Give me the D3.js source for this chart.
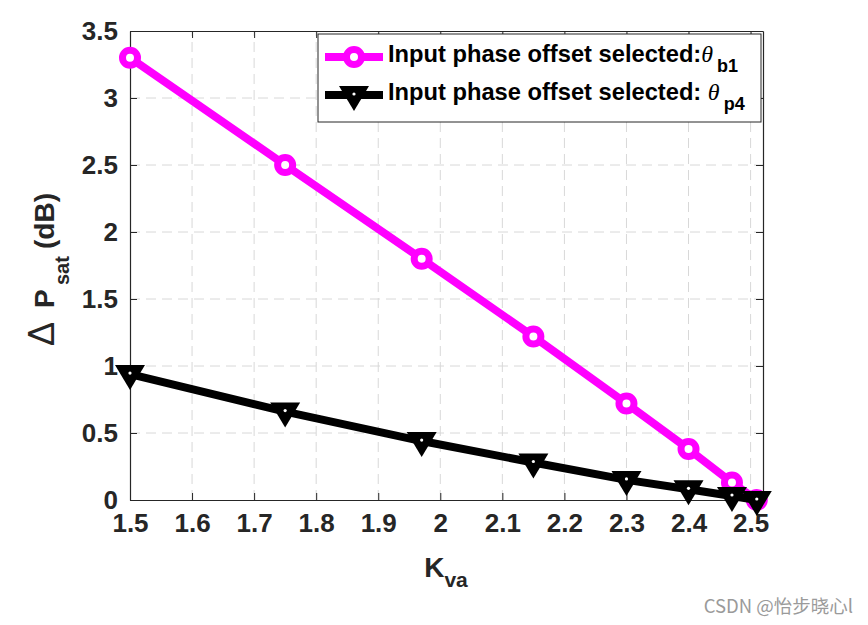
<!DOCTYPE html>
<html>
<head>
<meta charset="utf-8">
<script src="https://cdn.jsdelivr.net/npm/d3@7"></script>
<style>
  html, body { margin: 0; padding: 0; background: #fff; }
  svg { display: block; }
</style>
</head>
<body>
<div id="chart"></div>
<script>
// ---- data ----
const kva = [1.5, 1.75, 1.97, 2.15, 2.3, 2.4, 2.47, 2.51];
const seriesB1 = [3.30, 2.50, 1.80, 1.22, 0.72, 0.38, 0.13, 0.0];
const seriesP4 = [0.94, 0.66, 0.44, 0.28, 0.15, 0.08, 0.03, 0.0];
const xTicks = [1.5, 1.6, 1.7, 1.8, 1.9, 2.0, 2.1, 2.2, 2.3, 2.4, 2.5];
const yTicks = [0, 0.5, 1, 1.5, 2, 2.5, 3, 3.5];
const xDomain = [1.5, 2.52];
const yDomain = [0, 3.5];
const legendLabels = [
  { text: "Input phase offset selected:", sym: "\u03B8", sub: "b1" },
  { text: "Input phase offset selected: ", sym: "\u03B8", sub: "p4" }
];

// ---- layout ----
const W = 868, H = 625;
const plot = { left: 130, right: 763, top: 31, bottom: 500 };
const axisColor = "#262626";
const magenta = "#ff00ff";
const fontSans = "'Liberation Sans', Arial, Helvetica, sans-serif";
const fontSerif = "'Liberation Serif', 'Times New Roman', serif";

const svg = d3.select("#chart").append("svg")
  .attr("width", W).attr("height", H)
  .attr("font-family", fontSans);

svg.append("rect").attr("width", W).attr("height", H).attr("fill", "#fff");

const x = d3.scaleLinear().domain(xDomain).range([plot.left, plot.right]);
const y = d3.scaleLinear().domain(yDomain).range([plot.bottom, plot.top]);

// grid
const grid = svg.append("g").attr("stroke", "#d8d8d8").attr("stroke-width", 1)
  .attr("stroke-dasharray", "10,6");
grid.selectAll("line.vx").data(xTicks.slice(1)).join("line")
  .attr("x1", d => x(d)).attr("x2", d => x(d))
  .attr("y1", plot.bottom).attr("y2", plot.top);
grid.selectAll("line.hy").data(yTicks.slice(1, -1)).join("line")
  .attr("y1", d => y(d)).attr("y2", d => y(d))
  .attr("x1", plot.left).attr("x2", plot.right);

// axes
const tickLen = 7;
const xAxis = d3.axisBottom(x).tickValues(xTicks).tickSizeInner(-tickLen).tickSizeOuter(0)
  .tickPadding(14).tickFormat(d3.format("~g"));
const yAxis = d3.axisLeft(y).tickValues(yTicks).tickSizeInner(-tickLen).tickSizeOuter(0)
  .tickPadding(12).tickFormat(d3.format("~g"));
const xTop = d3.axisTop(x).tickValues(xTicks).tickSizeInner(-tickLen).tickSizeOuter(0).tickFormat("");
const yRight = d3.axisRight(y).tickValues(yTicks).tickSizeInner(-tickLen).tickSizeOuter(0).tickFormat("");

function styleAxis(g) {
  g.select(".domain").attr("stroke", axisColor).attr("stroke-width", 1.2);
  g.selectAll(".tick line").attr("stroke", axisColor).attr("stroke-width", 1);
  g.selectAll(".tick text").attr("fill", axisColor)
    .attr("font-family", fontSans).attr("font-size", 26).attr("font-weight", "bold");
}
svg.append("g").attr("transform", `translate(0,${plot.bottom})`).call(xAxis).call(styleAxis);
svg.append("g").attr("transform", `translate(${plot.left},0)`).call(yAxis).call(styleAxis);
svg.append("g").attr("transform", `translate(0,${plot.top})`).call(xTop).call(styleAxis);
svg.append("g").attr("transform", `translate(${plot.right},0)`).call(yRight).call(styleAxis);

// lines
const line = d3.line().x(d => x(d[0])).y(d => y(d[1]));
const ptsB1 = kva.map((k, i) => [k, seriesB1[i]]);
const ptsP4 = kva.map((k, i) => [k, seriesP4[i]]);

const tri = "M-15,-9 L15,-9 L0,16 Z";

function drawCircle(sel) {
  sel.append("circle").attr("r", 7.5).attr("fill", "#fff")
    .attr("stroke", magenta).attr("stroke-width", 7);
}
function drawTri(sel) {
  sel.append("path").attr("d", tri).attr("fill", "#000");
  sel.append("circle").attr("r", 1.6).attr("cy", -1).attr("fill", "#fff");
}

svg.append("path").datum(ptsB1).attr("d", line).attr("fill", "none")
  .attr("stroke", magenta).attr("stroke-width", 8).attr("stroke-linejoin", "round");
svg.append("g").selectAll("g").data(ptsB1).join("g")
  .attr("transform", d => `translate(${x(d[0])},${y(d[1])})`).call(drawCircle);

svg.append("path").datum(ptsP4).attr("d", line).attr("fill", "none")
  .attr("stroke", "#000").attr("stroke-width", 8).attr("stroke-linejoin", "round");
svg.append("g").selectAll("g").data(ptsP4).join("g")
  .attr("transform", d => `translate(${x(d[0])},${y(d[1])})`).call(drawTri);

// legend
const lg = svg.append("g");
lg.append("rect").attr("x", 318).attr("y", 34).attr("width", 443).attr("height", 88)
  .attr("fill", "#fff").attr("stroke", axisColor).attr("stroke-width", 1);
const rows = [57, 95];
legendLabels.forEach((L, i) => {
  const g = lg.append("g").attr("transform", `translate(0,${rows[i]})`);
  g.append("line").attr("x1", 325).attr("x2", 383).attr("y1", 0).attr("y2", 0)
    .attr("stroke", i === 0 ? magenta : "#000").attr("stroke-width", 8);
  const m = g.append("g").attr("transform", "translate(354,0)");
  if (i === 0) drawCircle(m); else drawTri(m);
  const t = g.append("text").attr("x", 388).attr("y", 4.5)
    .attr("font-size", 23.7).attr("font-weight", "bold").attr("fill", "#000");
  t.append("tspan").text(L.text);
  t.append("tspan").attr("font-family", fontSerif)
    .attr("font-style", "italic").attr("font-weight", "normal").attr("font-size", 24).text(L.sym);
  t.append("tspan").attr("dy", 10).attr("dx", 4).attr("font-size", 18).text(L.sub);
});

// axis labels
const xl = svg.append("text").attr("x", 446).attr("y", 577).attr("text-anchor", "middle")
  .attr("font-size", 28).attr("font-weight", "bold").attr("fill", axisColor);
xl.append("tspan").text("K");
xl.append("tspan").attr("dy", 10).attr("font-size", 21).text("va");

// y label (rotated; text runs upward from the bottom)
const yl = svg.append("text").attr("transform", "translate(54,345) rotate(-90)")
  .attr("font-size", 28).attr("font-weight", "bold").attr("fill", axisColor);
yl.append("tspan").attr("x", -1).attr("font-weight", "normal").attr("font-size", 36).text("\u0394");
yl.append("tspan").attr("x", 37).text("P");
yl.append("tspan").attr("x", 60).attr("dy", 15).attr("font-size", 20).text("sat");
yl.append("tspan").attr("x", 96).attr("dy", -15).text("(dB)");

// watermark
svg.append("text").attr("x", 853).attr("y", 613).attr("text-anchor", "end")
  .attr("font-family", "'Noto Sans CJK SC', 'Noto Sans', sans-serif")
  .attr("font-size", 18.5).attr("fill", "#9a9a9a").text("CSDN @怡步晓心l");
</script>
</body>
</html>
